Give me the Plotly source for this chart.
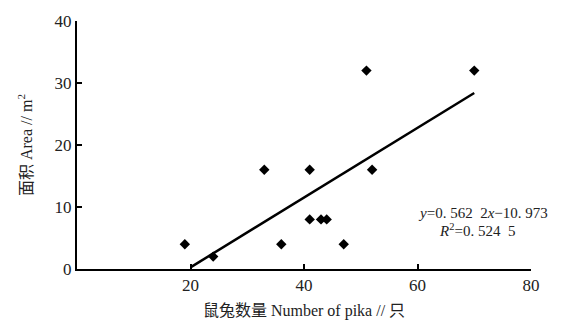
import plotly.graph_objects as go

# Data
pika_number = [19, 24, 33, 36, 41, 41, 43, 44, 47, 52, 51, 70]
area_m2 = [4, 2, 16, 4, 16, 8, 8, 8, 4, 16, 32, 32]

# Regression reported in the chart
slope = 0.5622
intercept = -10.973
fit_x = [20, 70]
fit_y = [slope * x + intercept for x in fit_x]

x_ticks = [20, 40, 60, 80]
y_ticks = [0, 10, 20, 30, 40]

serif = "Liberation Serif, 'Noto Sans CJK SC', serif"

W, H = 561, 329
l, r, t, b = 77, 30, 13, 59
pw, ph = W - l - r, H - t - b

fig = go.Figure()
fig.add_trace(go.Scatter(
    x=pika_number, y=area_m2, mode="markers",
    marker=dict(symbol="diamond", size=8, color="black"),
    showlegend=False, hoverinfo="skip"))
fig.add_trace(go.Scatter(
    x=fit_x, y=fit_y, mode="lines",
    line=dict(color="black", width=2.5),
    showlegend=False, hoverinfo="skip"))

fig.update_layout(
    width=W, height=H,
    margin=dict(l=l, r=r, t=t, b=b),
    paper_bgcolor="white", plot_bgcolor="white",
    font=dict(family=serif, color="#222"),
    xaxis=dict(
        range=[0, 80], tickvals=x_ticks, ticktext=[str(v) for v in x_ticks],
        showgrid=False, zeroline=False, showline=True, linecolor="black", linewidth=2,
        ticks="inside", ticklen=5, tickwidth=2, tickcolor="black",
        tickfont=dict(family=serif, size=17, color="#222"),
        title=dict(text="鼠兔数量 Number of pika // 只", standoff=10,
                   font=dict(family=serif, size=16, color="#222"))),
    yaxis=dict(
        range=[0, 40], tickvals=y_ticks, ticktext=[str(v) for v in y_ticks],
        showgrid=False, zeroline=False, showline=True, linecolor="black", linewidth=2,
        ticks="inside", ticklen=5, tickwidth=2, tickcolor="black",
        tickfont=dict(family=serif, size=17, color="#222"),
        title=dict(text="面积 Area // m<sup>2</sup>", standoff=18,
                   font=dict(family=serif, size=16, color="#222"))),
)

def to_paper(px, py):
    return (px - l) / pw, (H - b - py) / ph

for text, (px, py) in [
    ("<i>y</i>=0. 562  2<i>x</i>−10. 973", (483, 212)),
    ("<i>R</i><sup>2</sup>=0. 524  5", (477, 230)),
]:
    ax, ay = to_paper(px, py)
    fig.add_annotation(x=ax, y=ay, xref="paper", yref="paper", text=text,
                       xanchor="center", yanchor="middle",
                       showarrow=False, font=dict(family=serif, size=15, color="#222"))

fig.write_html("out.html")
